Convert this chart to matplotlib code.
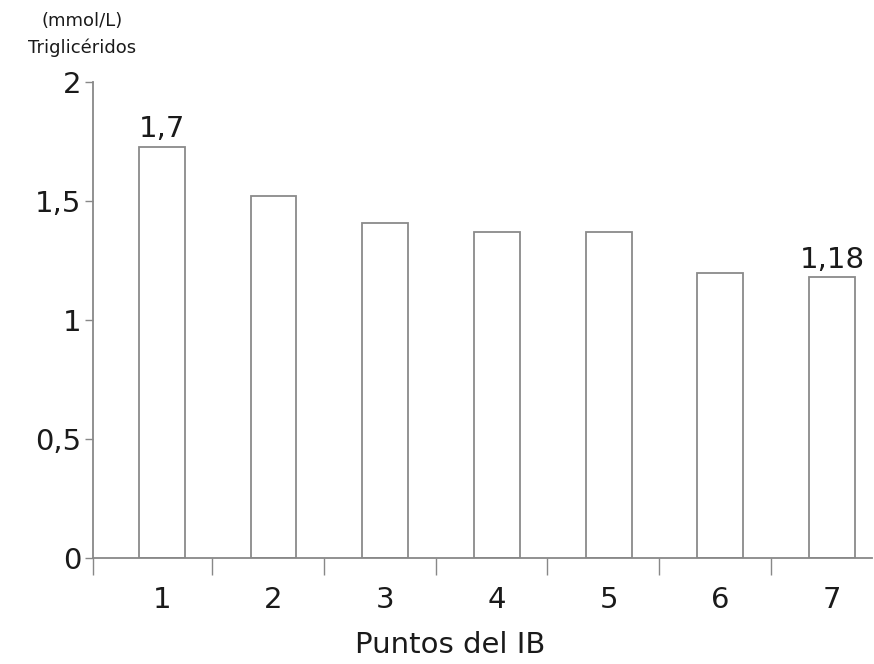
import matplotlib.pyplot as plt
import numpy as np

# Triglicéridos por puntos del IB
puntos = [1, 2, 3, 4, 5, 6, 7]
trigliceridos = [1.73, 1.52, 1.41, 1.37, 1.37, 1.20, 1.18]
etiquetas = {0: "1,7", 6: "1,18"}
yticks = [0, 0.5, 1, 1.5, 2]
ytick_labels = ["0", "0,5", "1", "1,5", "2"]

plt.rcParams['font.family'] = ['DejaVu Sans']

fig = plt.figure(figsize=(8.74, 6.64), dpi=100)
ax = fig.add_axes([0.106, 0.160, 0.892, 0.716])

ax.bar(puntos, trigliceridos, width=0.41, color='white', edgecolor='#8a8a8a', linewidth=1.3)

for i, txt in etiquetas.items():
    ax.text(puntos[i], trigliceridos[i] + 0.015, txt, ha='center', va='bottom', fontsize=21, color='#1a1a1a')

ax.set_xlim(0.38, 7.36)
ax.set_ylim(0, 2)

ax.set_yticks(yticks)
ax.set_yticklabels(ytick_labels, fontsize=21, color='#1a1a1a')
ax.set_xticks(puntos)
ax.set_xticklabels([str(p) for p in puntos], fontsize=21, color='#1a1a1a')
ax.set_xticks([p + 0.45 for p in puntos[:-1]] + [0.38], minor=True)

ax.tick_params(axis='y', direction='out', length=6, width=1, color='#888888', pad=2)
ax.tick_params(axis='x', which='major', length=0, pad=20)
ax.tick_params(axis='x', which='minor', direction='out', length=12, width=1, color='#888888')

for s in ['top', 'right']:
    ax.spines[s].set_visible(False)
ax.spines['left'].set_color('#888888')
ax.spines['bottom'].set_color('#888888')
ax.spines['left'].set_linewidth(1.3)
ax.spines['bottom'].set_linewidth(1.3)

fig.text(0.094, 0.948, "(mmol/L)\nTriglicéridos", ha='center', va='center', fontsize=13, color='#1a1a1a', linespacing=1.6)
fig.text(0.515, 0.028, "Puntos del IB", ha='center', va='center', fontsize=21, color='#1a1a1a')

fig.savefig('out.png', dpi=100)
